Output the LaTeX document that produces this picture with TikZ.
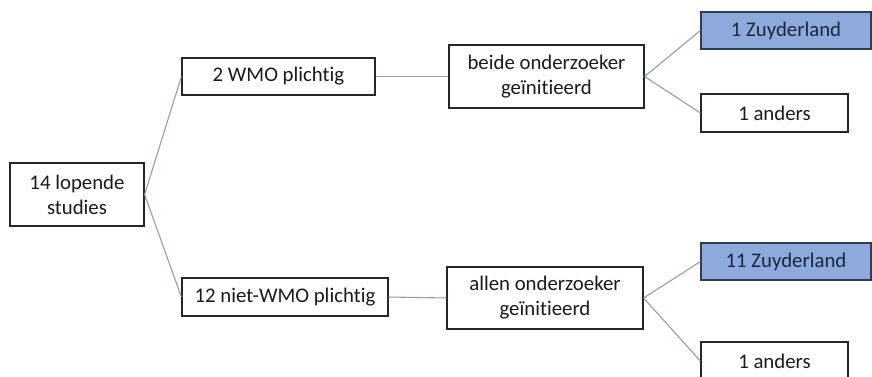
\documentclass[tikz,border=0pt]{standalone}
\usepackage{fontspec}
\setmainfont{Carlito}[Ligatures={NoCommon}]
\definecolor{zfill}{HTML}{8EA9DB}
\definecolor{zborder}{HTML}{2F3B52}
\definecolor{ztext}{HTML}{1B2640}
\definecolor{conn}{HTML}{8C9DBA}
\definecolor{txt}{HTML}{1A1A1A}
\tikzset{
  box/.style={draw=black!85, line width=1.2pt, fill=white, inner sep=0pt, align=center,
    font=\fontsize{20.8}{25}\selectfont, text=txt},
  zbox/.style={box, fill=zfill, draw=zborder, text=ztext},
  conline/.style={draw=conn, line width=1.1pt}
}
\begin{document}
\begin{tikzpicture}[x=1pt,y=-1pt]
\useasboundingbox (0,0) rectangle (872,376);
\clip (0,0) rectangle (872,376);
\node[box, minimum width=134pt, minimum height=63pt] (root) at (77,194.5) {14 lopende\\studies};
\node[box, minimum width=193pt, minimum height=37pt] (wmo) at (278.5,76.5) {2 WMO plichtig};
\node[box, minimum width=206pt, minimum height=38pt] (niet) at (285,297) {12 niet-WMO plichtig};
\node[box, minimum width=195pt, minimum height=63pt] (beide) at (546.5,76.5) {beide onderzoeker\\geïnitieerd};
\node[box, minimum width=196pt, minimum height=62pt] (allen) at (545,298) {allen onderzoeker\\geïnitieerd};
\node[zbox, minimum width=170pt, minimum height=37pt] (z1) at (786,30.5) {1 Zuyderland};
\node[box, minimum width=147pt, minimum height=38pt] (a1) at (774.5,113) {1 anders};
\node[zbox, minimum width=170pt, minimum height=37pt] (z11) at (786,261.5) {11 Zuyderland};
\node[box, minimum width=147pt, minimum height=38pt] (a11) at (774.5,361) {1 anders};
\draw[conline] (root.east) -- (wmo.west);
\draw[conline] (root.east) -- (niet.west);
\draw[conline] (wmo.east) -- (beide.west);
\draw[conline] (niet.east) -- (allen.west);
\draw[conline] (beide.east) -- (z1.west);
\draw[conline] (beide.east) -- (a1.west);
\draw[conline] (allen.east) -- (z11.west);
\draw[conline] (allen.east) -- (a11.west);
\end{tikzpicture}
\end{document}
